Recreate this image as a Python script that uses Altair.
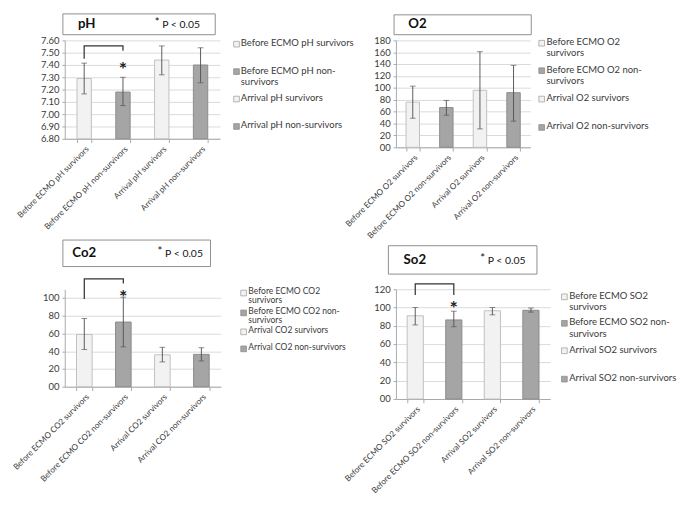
import altair as alt
import pandas as pd

FONT = "Lato"
LIGHT, LIGHT_EDGE = "#f2f2f2", "#bdbdbd"
DARK, DARK_EDGE = "#a5a5a5", "#8a8a8a"
ERR = "#555555"
GRID = "#d9d9d9"
AXIS = "#a6a6a6"
TXT = "#3a3a3a"

groups = ["survivors", "non-survivors", "survivors", "non-survivors"]

# ---- pH ----
ph_categories = ["Before ECMO  pH survivors", "Before ECMO  pH non-survivors",
                 "Arrival  pH survivors", "Arrival pH non-survivors"]
ph_legend = ["Before ECMO  pH survivors", "Before ECMO  pH non-\nsurvivors",
             "Arrival  pH survivors", "Arrival pH non-survivors"]
ph_mean = [7.29, 7.18, 7.44, 7.40]
ph_low = [7.165, 7.07, 7.32, 7.255]
ph_high = [7.415, 7.30, 7.555, 7.54]
ph_ticks = [6.80, 6.90, 7.00, 7.10, 7.20, 7.30, 7.40, 7.50, 7.60]
ph_bracket = [7.45, 7.556, 7.556, 7.515]
ph_star = 7.41

# ---- O2 ----
o2_categories = ["Before ECMO O2 survivors", "Before ECMO O2 non-survivors",
                 "Arrival O2 survivors", "Arrival O2 non-survivors"]
o2_legend = ["Before ECMO O2\nsurvivors", "Before ECMO O2 non-\nsurvivors",
             "Arrival O2 survivors", "Arrival O2 non-survivors"]
o2_mean = [76, 67, 96, 92]
o2_low = [49, 54, 31, 44]
o2_high = [103, 79, 161, 138]
o2_ticks = [0, 20, 40, 60, 80, 100, 120, 140, 160, 180]

# ---- CO2 ----
co2_categories = ["Before ECMO CO2 survivors", "Before ECMO CO2 non-survivors",
                  "Arrival CO2 survivors", "Arrival CO2 non-survivors"]
co2_legend = ["Before ECMO CO2\nsurvivors", "Before ECMO CO2 non-\nsurvivors",
              "Arrival CO2 survivors", "Arrival CO2 non-survivors"]
co2_mean = [59, 73, 36, 36.5]
co2_low = [42, 45, 28, 29]
co2_high = [77, 101, 44.5, 44]
co2_ticks = [0, 20, 40, 60, 80, 100]
co2_bracket = [99, 121.8, 121.8, 116.5]
co2_star = 107.7

# ---- SO2 ----
so2_categories = ["Before ECMO SO2 survivors", "Before ECMO SO2 non-survivors",
                  "Arrival SO2 survivors", "Arrival SO2 non-survivors"]
so2_legend = ["Before ECMO SO2\nsurvivors", "Before ECMO SO2 non-\nsurvivors",
              "Arrival SO2 survivors", "Arrival SO2 non-survivors"]
so2_mean = [91, 86.5, 96.5, 97]
so2_low = [81, 79, 92, 95]
so2_high = [100, 96, 100, 99.5]
so2_ticks = [0, 20, 40, 60, 80, 100, 120]
so2_bracket = [113.7, 126, 126, 113.7]
so2_star = 104.9

panel_titles = ["pH", "O2", "Co2", "So2"]
p_label = "P < 0.05"


def one(**kw):
    return pd.DataFrame([kw])


def panel(cats, legend_labels, mean, low, high, domain, ticks, fmt, width, height,
          pad_inner, title, box, title_xy, p_x, leg, bracket=None, star=None):
    df = pd.DataFrame({"cat": cats, "mean": mean, "low": low, "high": high,
                       "group": groups})
    xscale = alt.Scale(domain=cats, paddingInner=pad_inner, paddingOuter=pad_inner / 2)
    xaxis = alt.Axis(title=None, labelAngle=-45, labelOverlap=False, tickBand="extent",
                     grid=False, domainColor=AXIS, tickColor=AXIS, tickSize=4,
                     labelFont=FONT, labelFontSize=8.6, labelColor=TXT, labelPadding=2,
                     labelLimit=300)
    yscale = alt.Scale(domain=domain, nice=False, zero=False)
    yaxis = alt.Axis(title=None, values=ticks, format=fmt, grid=True, gridColor=GRID,
                     domainColor=AXIS, tickColor=AXIS, tickSize=3, labelFont=FONT,
                     labelFontSize=10, labelColor=TXT, labelPadding=3)
    X = alt.X("cat:N", scale=xscale, axis=xaxis)

    def Y(f):
        return alt.Y(f"{f}:Q", scale=yscale, axis=yaxis)

    layers = []
    bars = alt.Chart(df).mark_bar(strokeWidth=1).encode(
        x=X, y=Y("mean"), y2=alt.datum(domain[0]),
        fill=alt.Fill("group:N", scale=alt.Scale(domain=["survivors", "non-survivors"],
                                                 range=[LIGHT, DARK]), legend=None),
        stroke=alt.Stroke("group:N", scale=alt.Scale(domain=["survivors", "non-survivors"],
                                                     range=[LIGHT_EDGE, DARK_EDGE]), legend=None))
    rule = alt.Chart(df).mark_rule(color=ERR, strokeWidth=1).encode(
        x=X, y=Y("low"), y2="high:Q")
    cap_lo = alt.Chart(df).mark_tick(color=ERR, thickness=1, size=6).encode(x=X, y=Y("low"))
    cap_hi = alt.Chart(df).mark_tick(color=ERR, thickness=1, size=6).encode(x=X, y=Y("high"))
    layers += [bars, rule, cap_lo, cap_hi]

    if bracket is not None:
        bdf = pd.DataFrame({"cat": [cats[0], cats[0], cats[1], cats[1]],
                            "val": bracket, "o": [0, 1, 2, 3]})
        layers.append(alt.Chart(bdf).mark_line(color="#333333", strokeWidth=1.3).encode(
            x=X, y=Y("val"), order="o:Q"))
    if star is not None:
        sdf = pd.DataFrame({"cat": [cats[1]], "val": [star], "s": ["*"]})
        layers.append(alt.Chart(sdf).mark_text(font=FONT, fontSize=21, fontWeight="bold",
                                               color="#222222", baseline="middle", dy=7).encode(
            x=X, y=Y("val"), text="s:N"))

    # title box
    layers.append(alt.Chart(one(k=1)).mark_rect(fill="white", stroke="#8a8a8a",
                                                strokeWidth=1).encode(
        x=alt.value(box[0]), x2=alt.value(box[1]), y=alt.value(box[2]), y2=alt.value(box[3])))
    layers.append(alt.Chart(one(t=title)).mark_text(font=FONT, fontSize=14, fontWeight="bold",
                                                    color="#111111", align="left",
                                                    baseline="middle").encode(
        x=alt.value(title_xy[0]), y=alt.value(title_xy[1]), text="t:N"))
    if p_x is not None:
        layers.append(alt.Chart(one(t="*")).mark_text(font=FONT, fontSize=12, color="#111111",
                                                      align="left", baseline="middle").encode(
            x=alt.value(p_x), y=alt.value(title_xy[1] - 2), text="t:N"))
        layers.append(alt.Chart(one(t=p_label)).mark_text(font=FONT, fontSize=11,
                                                          color="#111111", align="left",
                                                          baseline="middle").encode(
            x=alt.value(p_x + 8), y=alt.value(title_xy[1] + 1), text="t:N"))

    # legend
    sx, tx, ys, lh, fs = leg
    for i, lab in enumerate(legend_labels):
        light = groups[i] == "survivors"
        layers.append(alt.Chart(one(k=i)).mark_rect(
            fill=LIGHT if light else DARK, stroke="#a0a0a0" if light else DARK_EDGE,
            strokeWidth=0.8).encode(
            x=alt.value(sx - 3), x2=alt.value(sx + 3),
            y=alt.value(ys[i] - 3), y2=alt.value(ys[i] + 3)))
        layers.append(alt.Chart(one(t=lab)).mark_text(
            font=FONT, fontSize=fs, color=TXT, align="left", baseline="top",
            lineBreak="\n", lineHeight=lh).encode(
            x=alt.value(tx), y=alt.value(ys[i] - 6), text="t:N"))

    return alt.layer(*layers).properties(width=width, height=height)


p1 = panel(ph_categories, ph_legend, ph_mean, ph_low, ph_high, [6.8, 7.6], ph_ticks, ".2f",
           164, 104, 0.63, panel_titles[0], (-2, 159, -28, -6), (14, -17), 95,
           (181.5, 186, [4, 33, 62, 91], 12, 10), bracket=ph_bracket, star=ph_star)
p2 = panel(o2_categories, o2_legend, o2_mean, o2_low, o2_high, [0, 180], o2_ticks, "02d",
           142, 113, 0.6, panel_titles[1], (-2, 143, -27, -6), (13, -17), None,
           (154, 159, [3, 32, 62, 92], 12, 10))
p3 = panel(co2_categories, co2_legend, co2_mean, co2_low, co2_high, [0, 110], co2_ticks, "02d",
           165, 103, 0.6, panel_titles[2], (-2, 154, -52, -24), (8, -38), 98,
           (189, 194, [4, 25, 45, 63], 9.5, 9), bracket=co2_bracket, star=co2_star)
p4 = panel(so2_categories, so2_legend, so2_mean, so2_low, so2_high, [0, 120], so2_ticks, "02d",
           163, 116, 0.58, panel_titles[3], (-8, 149, -46, -16), (8, -31), 89,
           (178, 183, [8, 36, 65, 95], 12, 10), bracket=so2_bracket, star=so2_star)

chart = alt.concat(p1, p2, p3, p4, columns=2, spacing={"row": 150, "column": 185},
                   bounds="flush", align="each").properties(
    padding={"left": 3, "top": -9, "right": 0, "bottom": 0}).configure_view(
    stroke="transparent")

chart.save("out.html", embed_options={"renderer": "svg", "actions": False})
